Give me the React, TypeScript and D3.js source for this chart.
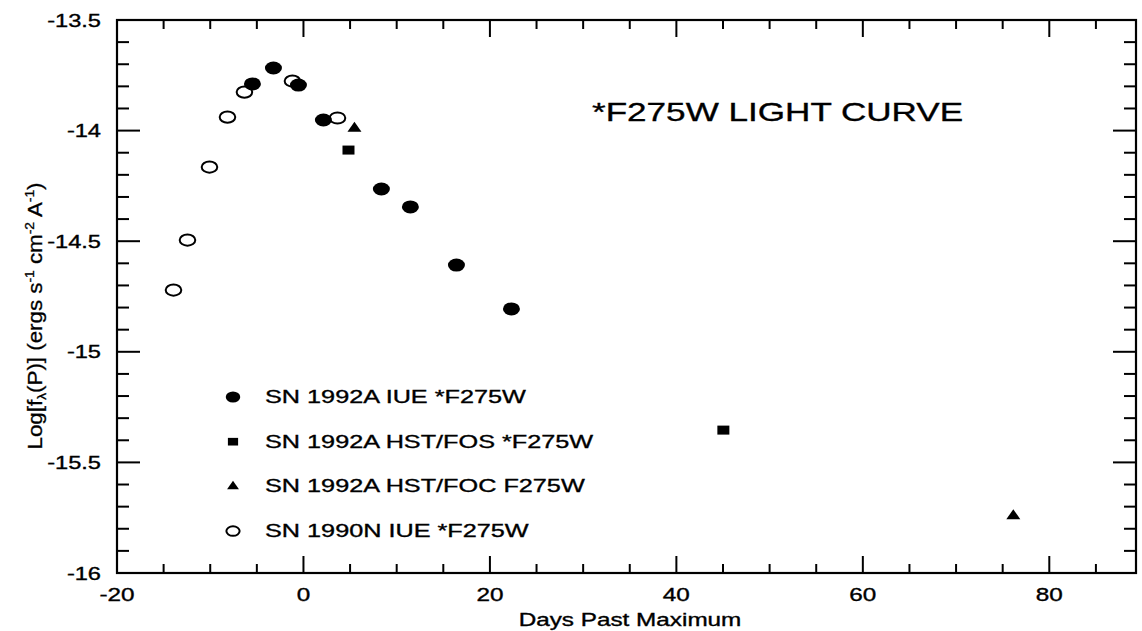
import { useRef, useEffect } from "react";
import * as d3 from "d3";

// SN 1992A IUE *F275W (filled circles)
const iueDays = [-5.47, -3.22, -0.54, 2.14, 8.36, 11.47, 16.41, 22.31];
const iueFlux = [-13.789, -13.717, -13.794, -13.952, -14.264, -14.345, -14.608, -14.806];
// SN 1992A HST/FOS *F275W (squares)
const fosDays = [4.83, 45.04];
const fosFlux = [-14.088, -15.354];
// SN 1992A HST/FOC F275W (triangles)
const focDays = [5.47, 76.14];
const focFlux = [-13.99, -15.742];
// SN 1990N IUE *F275W (open circles)
const n90Days = [-13.94, -12.44, -10.08, -8.15, -6.33, -1.18, 3.65];
const n90Flux = [-14.721, -14.495, -14.165, -13.939, -13.826, -13.776, -13.943];

const legendLabels = [
  "SN 1992A IUE *F275W",
  "SN 1992A HST/FOS *F275W",
  "SN 1992A HST/FOC F275W",
  "SN 1990N IUE *F275W",
];
const legendShapes = ["dot", "square", "triangle", "ring"];
const xTickValues = [-20, 0, 20, 40, 60, 80];
const yTickValues = [-13.5, -14, -14.5, -15, -15.5, -16];

const W = 1142;
const H = 631;
const SX = 1.35; // the scan is stretched sideways
const FONT = "'Liberation Sans', Arial, Helvetica, sans-serif";

const App = () => {
  const svgRef = useRef<SVGSVGElement>(null);

  useEffect(() => {
    const left = 117, right = 1136, top = 20, bottom = 573;
    const svg = d3.select(svgRef.current);
    svg.selectAll("*").remove();

    const x = d3.scaleLinear().domain([-20, 89.3]).range([left, right]);
    const y = d3.scaleLinear().domain([-16, -13.5]).range([bottom, top]);

    svg.append("rect").attr("width", W).attr("height", H).attr("fill", "#fff");

    // frame
    svg.append("rect")
      .attr("x", left).attr("y", top)
      .attr("width", right - left).attr("height", bottom - top)
      .attr("fill", "none").attr("stroke", "#000").attr("stroke-width", 2.2);

    const ticks = svg.append("g").attr("stroke", "#000").attr("stroke-width", 2);

    // x ticks, every 5 days, inward on top and bottom
    d3.range(-15, 89, 5).forEach((d) => {
      const len = d % 20 === 0 ? 17 : 9;
      ticks.append("line").attr("x1", x(d)).attr("x2", x(d)).attr("y1", bottom).attr("y2", bottom - len);
      ticks.append("line").attr("x1", x(d)).attr("x2", x(d)).attr("y1", top).attr("y2", top + len);
    });

    // y ticks, every 0.1, inward on left and right
    d3.range(0, 26).forEach((i) => {
      const v = -16 + i * 0.1;
      const len = i % 5 === 0 ? 23 : 12;
      ticks.append("line").attr("x1", left).attr("x2", left + len).attr("y1", y(v)).attr("y2", y(v));
      ticks.append("line").attr("x1", right).attr("x2", right - len).attr("y1", y(v)).attr("y2", y(v));
    });

    // horizontally stretched text helper
    const label = (tx: number, ty: number, txt: string, size: number, anchor: string) => {
      svg.append("text")
        .attr("transform", `translate(${tx},${ty}) scale(${SX},1)`)
        .attr("text-anchor", anchor)
        .style("font-family", FONT)
        .style("font-size", `${size}px`)
        .attr("fill", "#000")
        .attr("stroke", "#000")
        .attr("stroke-width", 0.35)
        .text(txt);
    };

    xTickValues.forEach((d) => label(x(d), 601, String(d), 18, "middle"));
    yTickValues.forEach((d) => label(101, y(d) + 6.5, String(d), 17.5, "end"));

    label(630, 626, "Days Past Maximum", 18, "middle");
    label(592, 121, "*F275W LIGHT CURVE", 26, "start");

    // rotated y-axis label
    const yl = svg.append("text")
      .attr("transform", "translate(42,316) rotate(-90)")
      .attr("text-anchor", "middle")
      .attr("textLength", 267)
      .attr("lengthAdjust", "spacingAndGlyphs")
      .style("font-family", FONT)
      .style("font-size", "19.5px")
      .attr("fill", "#000")
      .attr("stroke", "#000")
      .attr("stroke-width", 0.3);
    yl.append("tspan").text("Log[f");
    yl.append("tspan").attr("dy", 4).style("font-size", "12px").text("λ");
    yl.append("tspan").attr("dy", -4).text("(P)] (ergs s");
    yl.append("tspan").attr("dy", -8).style("font-size", "12px").text("-1");
    yl.append("tspan").attr("dy", 8).text(" cm");
    yl.append("tspan").attr("dy", -8).style("font-size", "12px").text("-2");
    yl.append("tspan").attr("dy", 8).text(" A");
    yl.append("tspan").attr("dy", -8).style("font-size", "12px").text("-1");
    yl.append("tspan").attr("dy", 8).text(")");

    // marker drawing
    const drawMarker = (g: any, shape: string, cx: number, cy: number, s: number) => {
      if (shape === "dot") {
        g.append("ellipse").attr("cx", cx).attr("cy", cy).attr("rx", 8.5 * s).attr("ry", 6.5 * s).attr("fill", "#000");
      } else if (shape === "ring") {
        g.append("ellipse").attr("cx", cx).attr("cy", cy).attr("rx", 7.8 * s).attr("ry", 5.6 * s)
          .attr("fill", "none").attr("stroke", "#000").attr("stroke-width", 2);
      } else if (shape === "square") {
        g.append("rect").attr("x", cx - 6 * s).attr("y", cy - 4.5 * s)
          .attr("width", 12 * s).attr("height", 9 * s).attr("fill", "#000");
      } else {
        const hw = 7 * s, h = 10 * s;
        g.append("path")
          .attr("d", `M${cx - hw},${cy + h / 3}L${cx + hw},${cy + h / 3}L${cx},${cy - (2 * h) / 3}Z`)
          .attr("fill", "#000");
      }
    };

    const marks = svg.append("g");
    n90Days.forEach((d, i) => drawMarker(marks, "ring", x(d), y(n90Flux[i]), 1));
    iueDays.forEach((d, i) => drawMarker(marks, "dot", x(d), y(iueFlux[i]), 1));
    fosDays.forEach((d, i) => drawMarker(marks, "square", x(d), y(fosFlux[i]), 1));
    focDays.forEach((d, i) => drawMarker(marks, "triangle", x(d), y(focFlux[i]), 1));

    // legend
    const lg = svg.append("g");
    legendLabels.forEach((name, i) => {
      const by = 403 + i * 44.7;
      drawMarker(lg, legendShapes[i], 233, by - 6, 0.85);
      label(265, by, name, 18.7, "start");
    });
  }, []);

  return (
    <svg
      ref={svgRef}
      width={W}
      height={H}
      style={{ position: "absolute", left: 0, top: 0, display: "block" }}
    ></svg>
  );
};

export default App;
